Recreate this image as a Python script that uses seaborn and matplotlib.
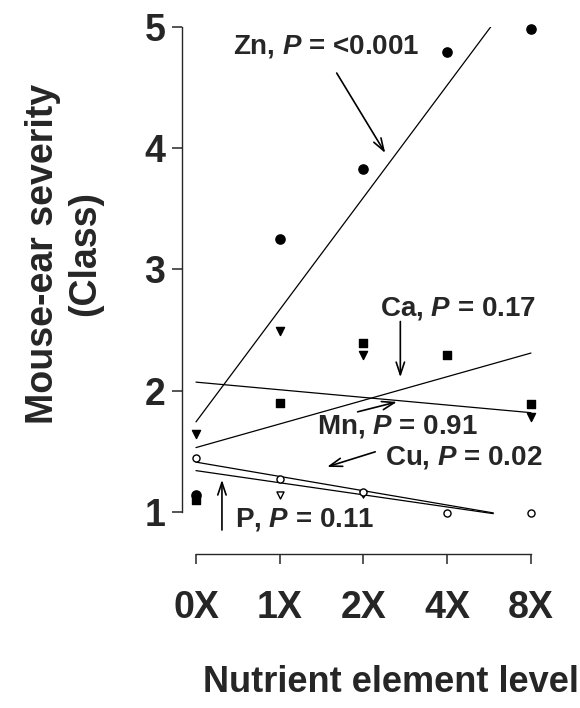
import numpy as np
import pandas as pd
import matplotlib.pyplot as plt
import seaborn as sns

# Nutrient levels (categorical x axis)
levels = ['0X', '1X', '2X', '4X', '8X']

# Mean mouse-ear severity per element (NaN = point hidden under another marker)
zn = [1.14, 3.25, 3.83, 4.79, 4.98]
ca = [1.10, 1.90, 2.39, 2.29, 1.89]
mn = [1.64, 2.49, 2.29, np.nan, 1.78]
cu = [1.44, 1.27, 1.16, 0.99, 0.99]
p = [np.nan, 1.14, 1.15, np.nan, np.nan]

elements = ['Zn', 'Ca', 'Mn', 'Cu', 'P']
p_values = ['<0.001', '0.17', '0.91', '0.02', '0.11']

# Fitted regression lines: value at 0X and slope per level
fit_start = [1.742, 1.53, 2.07, 1.41, 1.34]
fit_slope = [0.926, 0.195, -0.063, -0.118, -0.10]

sns.set_style('ticks')
plt.rcParams['font.family'] = ['Liberation Sans', 'DejaVu Sans']
plt.rcParams['mathtext.fontset'] = 'custom'
plt.rcParams['mathtext.rm'] = 'Liberation Sans:bold'
plt.rcParams['mathtext.it'] = 'Liberation Sans:bold:italic'

rows = []
for el, vals in zip(elements, [zn, ca, mn, cu, p]):
    for i, v in enumerate(vals):
        rows.append({'element': el, 'pos': i, 'severity': v})
df = pd.DataFrame(rows).dropna()

fig = plt.figure(figsize=(5.8, 7.08), dpi=100)
ax = fig.add_axes([0.3138, 0.2514, 0.619, 0.7105])
ax.set_xlim(-0.167, 4.12)
ax.set_ylim(0.85, 5.0)

# regression lines
line_end = {'Zn': None, 'Ca': 4.0, 'Mn': 4.0, 'Cu': 3.55, 'P': 3.55}
for el, b, m in zip(elements, fit_start, fit_slope):
    x_end = line_end[el]
    if x_end is None:
        x_end = (5.0 - b) / m
    xs = np.array([0.0, x_end])
    ax.plot(xs, b + m * xs, color='black', lw=0.9, zorder=2)

# markers
marker_style = {
    'Zn': dict(marker='o', s=44, color='black', edgecolor='black'),
    'Ca': dict(marker='s', s=26, color='black', edgecolor='black'),
    'Mn': dict(marker='v', s=34, color='black', edgecolor='black'),
    'Cu': dict(marker='o', s=26, color='white', edgecolor='black'),
    'P': dict(marker='v', s=26, color='white', edgecolor='black'),
}
for el in ['P', 'Cu', 'Mn', 'Ca', 'Zn']:
    sub = df[df['element'] == el]
    sns.scatterplot(data=sub, x='pos', y='severity', ax=ax, linewidth=1.0,
                    zorder=3, clip_on=False, legend=False, **marker_style[el])

# annotations: label position, arrow tail, arrow tip (data coords)
ann_text = {'Zn': (0.44, 4.835), 'Ca': (2.20, 2.68), 'Mn': (1.445, 1.70),
            'Cu': (2.257, 1.445), 'P': (0.466, 0.934)}
ann_tail = {'Zn': (1.68, 4.62), 'Ca': (2.44, 2.57), 'Mn': (1.93, 1.825),
            'Cu': (2.14, 1.495), 'P': (0.31, 0.85)}
ann_tip = {'Zn': (2.26, 3.96), 'Ca': (2.44, 2.11), 'Mn': (2.40, 1.907),
           'Cu': (1.565, 1.371), 'P': (0.31, 1.264)}
for el, pv in zip(elements, p_values):
    ax.text(*ann_text[el], el + ', $P$ = ' + pv, fontsize=20,
            fontweight='bold', ha='left', va='center', zorder=4)
    ax.annotate('', xy=ann_tip[el], xytext=ann_tail[el],
                arrowprops=dict(arrowstyle='->,head_length=0.9,head_width=0.3',
                                color='black', lw=1.2, shrinkA=0, shrinkB=0))

# spines first: set_position resets the ticks
sns.despine(ax=ax)
ax.spines['bottom'].set_position(('outward', 17))
ax.spines['left'].set_bounds(1, 5)
ax.spines['bottom'].set_bounds(0, 4)
ax.spines['left'].set_linewidth(1.0)
ax.spines['bottom'].set_linewidth(1.0)

ax.set_xticks(range(len(levels)))
ax.set_xticklabels(levels, fontsize=27, fontweight='bold')
ax.set_yticks([1, 2, 3, 4, 5])
ax.set_yticklabels(['1', '2', '3', '4', '5'], fontsize=27, fontweight='bold')
ax.tick_params(axis='both', direction='out', length=7, width=1.1)
ax.tick_params(axis='x', pad=19)
ax.tick_params(axis='y', pad=5)

ax.set_xlabel('Nutrient element level', fontsize=26, fontweight='bold')
ax.set_ylabel('Mouse-ear severity\n(Class)', fontsize=27, fontweight='bold',
              linespacing=1.2)
ax.xaxis.set_label_coords(0.582, -0.268)
ax.yaxis.set_label_coords(-0.22, 0.549)

fig.savefig('out.png', dpi=100)
